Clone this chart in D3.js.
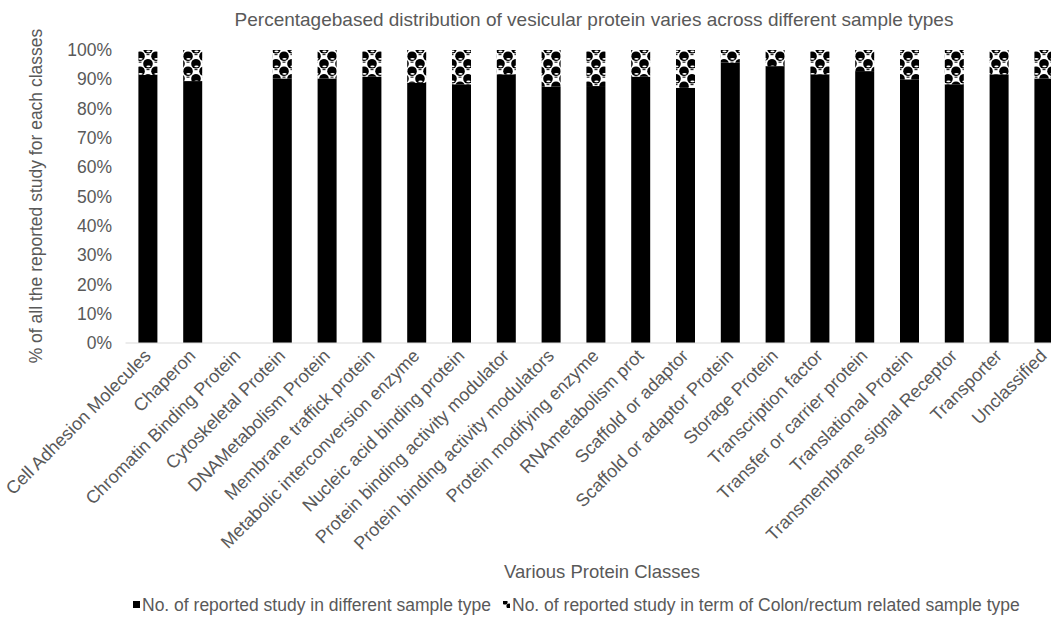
<!DOCTYPE html>
<html>
<head>
<meta charset="utf-8">
<script src="https://cdn.jsdelivr.net/npm/d3@7"></script>
<style>
  html, body { margin: 0; padding: 0; background: #fff; }
  svg { display: block; font-family: "Liberation Sans", Arial, sans-serif; }
</style>
</head>
<body>
<svg id="chart" width="1051" height="620"></svg>
<script>
// Protein classes along the x axis
const categories = [
  "Cell Adhesion Molecules", "Chaperon", "Chromatin Binding Protein",
  "Cytoskeletal Protein", "DNAMetabolism Protein", "Membrane traffick protein",
  "Metabolic interconversion enzyme", "Nucleic acid binding protein",
  "Protein binding activity modulator", "Protein binding activity modulators",
  "Protein modifying enzyme", "RNAmetabolism prot", "Scaffold or adaptor",
  "Scaffold or adaptor Protein", "Storage Protein", "Transcription factor",
  "Transfer or carrier protein", "Translational Protein",
  "Transmembrane signal Receptor", "Transporter", "Unclassified"
];

// Share (%) of reported studies per class
const differentSample = [91.5, 89.4, 0, 90.3, 90.3, 90.9, 88.8, 88.3, 91.7, 87.5,
                         87.7, 90.9, 87.1, 95.7, 94.5, 91.7, 92.8, 90.0, 88.3, 91.7, 90.3];
const colonRectum     = [8.5, 10.6, 0, 9.7, 9.7, 9.1, 11.2, 11.7, 8.3, 12.5,
                         12.3, 9.1, 12.9, 4.3, 5.5, 8.3, 7.2, 10.0, 11.7, 8.3, 9.7];

const seriesNames = [
  "No. of reported study in different sample type",
  "No. of reported study in term of Colon/rectum related sample type"
];

const yTicks = [0, 10, 20, 30, 40, 50, 60, 70, 80, 90, 100];

const svg = d3.select("#chart");
const textColor = "#595959";

// sphere-like fill for the colon/rectum segment
const defs = svg.append("defs");
const pat = defs.append("pattern")
  .attr("id", "sphere")
  .attr("patternUnits", "userSpaceOnUse")
  .attr("width", 16).attr("height", 15);
pat.append("rect").attr("width", 16).attr("height", 15).attr("fill", "#fff");
const centres = [];
[[4, 3.75], [12, 11.25]].forEach(([cx, cy]) => {
  [-16, 0, 16].forEach(dx => [-15, 0, 15].forEach(dy => centres.push([cx + dx, cy + dy])));
});
centres.forEach(([cx, cy]) => {
  pat.append("circle").attr("cx", cx).attr("cy", cy).attr("r", 4.8).attr("fill", "#000");
});
centres.forEach(([cx, cy]) => {
  pat.append("ellipse").attr("cx", cx + 0.5).attr("cy", cy + 2.6).attr("rx", 2.2).attr("ry", 0.9).attr("fill", "#fff");
  pat.append("rect").attr("x", cx - 1.5).attr("y", cy + 5.4).attr("width", 3).attr("height", 1).attr("fill", "#000");
});

// tiny version for the legend swatch
const patSmall = defs.append("pattern")
  .attr("id", "sphereSmall")
  .attr("patternUnits", "userSpaceOnUse")
  .attr("width", 8).attr("height", 8);
patSmall.append("rect").attr("width", 8).attr("height", 8).attr("fill", "#fff");
patSmall.append("circle").attr("cx", 2).attr("cy", 2).attr("r", 2.6).attr("fill", "#000");
patSmall.append("circle").attr("cx", 6).attr("cy", 6).attr("r", 2.6).attr("fill", "#000");

const x = d3.scaleBand()
  .domain(categories)
  .range([125.5, 125.5 + 21 * 44.8])
  .paddingInner(0.576)
  .paddingOuter(0.288);

const y = d3.scaleLinear().domain([0, 100]).range([343, 50]);

// stacked bars
const rows = categories.map((c, i) => ({ cat: c, a: differentSample[i], b: colonRectum[i] }));
const stack = d3.stack().keys(["a", "b"])(rows);
const fills = ["#000", "url(#sphere)"];

svg.append("g").selectAll("g")
  .data(stack)
  .join("g")
  .attr("fill", (d, i) => fills[i])
  .selectAll("rect")
  .data(d => d.filter(s => s[1] - s[0] > 0))
  .join("rect")
  .attr("x", d => x(d.data.cat))
  .attr("width", x.bandwidth())
  .attr("y", d => y(d[1]))
  .attr("height", d => y(d[0]) - y(d[1]));

// x axis line
svg.append("line")
  .attr("x1", x.range()[0]).attr("x2", x.range()[1])
  .attr("y1", y(0)).attr("y2", y(0))
  .attr("stroke", "#d9d9d9").attr("stroke-width", 1);

// y axis labels
const yAxis = d3.axisLeft(y)
  .tickValues(yTicks)
  .tickSize(0)
  .tickPadding(0)
  .tickFormat(d => d + "%");
const yg = svg.append("g").attr("transform", "translate(112,0)").call(yAxis);
yg.select(".domain").remove();
yg.selectAll("text").attr("fill", textColor).attr("font-size", 17.5)
  .attr("font-family", "Liberation Sans, Arial, sans-serif");

// category labels
svg.append("g").selectAll("text")
  .data(categories)
  .join("text")
  .attr("transform", d => `translate(${x(d) + x.bandwidth() / 2 + 4},${y(0) + 14}) rotate(-45)`)
  .attr("text-anchor", "end")
  .attr("fill", textColor)
  .attr("font-size", 18)
  .text(d => d);

// title
svg.append("text")
  .attr("x", 594).attr("y", 26)
  .attr("text-anchor", "middle")
  .attr("fill", textColor)
  .attr("font-size", 19)
  .text("Percentagebased distribution of vesicular protein varies across different sample types");

// axis titles
svg.append("text")
  .attr("transform", "translate(42,196) rotate(-90)")
  .attr("text-anchor", "middle")
  .attr("fill", textColor)
  .attr("font-size", 17.5)
  .text("% of all the reported study for each classes");

svg.append("text")
  .attr("x", 602).attr("y", 578)
  .attr("text-anchor", "middle")
  .attr("fill", textColor)
  .attr("font-size", 18.5)
  .text("Various Protein Classes");

// legend
const legend = svg.append("g");
const legendX = [133, 503];
const legendFills = ["#000", "url(#sphereSmall)"];
seriesNames.forEach((name, i) => {
  const g = legend.append("g").attr("transform", `translate(${legendX[i]},0)`);
  g.append("rect").attr("x", 0).attr("y", 601).attr("width", 7).attr("height", 7)
    .attr("fill", legendFills[i]);
  g.append("text").attr("x", 9).attr("y", 611)
    .attr("fill", textColor).attr("font-size", 17.5)
    .text(name);
});
</script>
</body>
</html>
